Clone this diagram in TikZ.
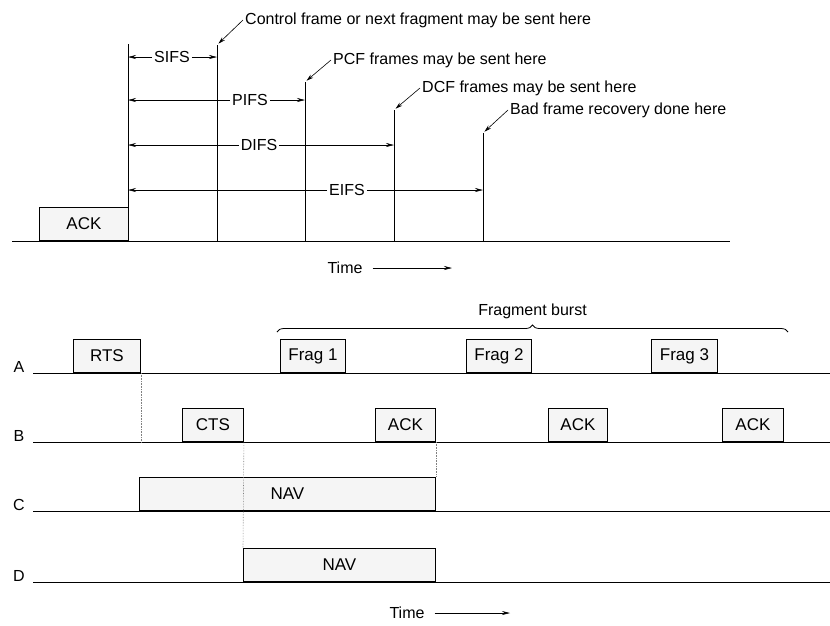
\documentclass[tikz,border=0pt]{standalone}
\usepackage{fontspec}
\setmainfont{Liberation Sans}
\usetikzlibrary{arrows.meta,decorations.pathreplacing,positioning}

\tikzset{
  frame/.style={draw, line width=0.9pt, fill=gray!8, anchor=south west, inner sep=0pt, minimum height=33pt, font=\fontsize{17}{19}\selectfont},
  lbl/.style={inner sep=2pt},
  gap/.style={-{Stealth[length=8pt,width=4pt]}, line width=0.6pt},
  note/.style={-{Stealth[length=7pt,width=4pt]}, line width=0.6pt, shorten >=2pt},
  axis/.style={line width=0.8pt},
  slot/.style={line width=0.9pt},
  guide/.style={densely dotted, gray, line width=0.6pt},
}

\begin{document}
\begin{tikzpicture}[x=1pt, y=-1pt, every node/.style={font=\fontsize{16}{18}\selectfont}]
\useasboundingbox (0,0) rectangle (830,625);

% inter frame spacing
\draw[axis] (12,241) -- (730,241);
\node[frame, minimum width=89pt] (ack0) at (39,241) {ACK};
\foreach \x/\y/\n in {128/44/v0, 217/45/v1, 305/82/v2, 394/110/v3, 483/133/v4}
  \draw[slot] (\x,241) -- (\x,\y) coordinate (\n);

\node[lbl] (sifs) at (172,57) {SIFS};
\node[lbl] (pifs) at (250,100) {PIFS};
\node[lbl] (difs) at (259,145) {DIFS};
\node[lbl] (eifs) at (347,190) {EIFS};
\draw[gap] (sifs) -- (sifs -| v0); \draw[gap] (sifs) -- (sifs -| v1);
\draw[gap] (pifs) -- (pifs -| v0); \draw[gap] (pifs) -- (pifs -| v2);
\draw[gap] (difs) -- (difs -| v0); \draw[gap] (difs) -- (difs -| v3);
\draw[gap] (eifs) -- (eifs -| v0); \draw[gap] (eifs) -- (eifs -| v4);

\node[lbl, anchor=west] (n1) at (243,20) {Control frame or next fragment may be sent here};
\node[lbl, anchor=west] (n2) at (331,60) {PCF frames may be sent here};
\node[lbl, anchor=west] (n3) at (420,88) {DCF frames may be sent here};
\node[lbl, anchor=west] (n4) at (508,110) {Bad frame recovery done here};
\draw[note] (n1.west) -- (v1);
\draw[note] (n2.west) -- (v2);
\draw[note] (n3.west) -- (v3);
\draw[note] (n4.west) -- (v4);

\node[lbl] (time0) at (345,268) {Time};
\coordinate (time0end) at (452,268);
\draw[gap, shorten <=8pt] (time0) -- (time0end);

% fragment burst
\foreach \n/\y in {A/373, B/442, C/511, D/582} {
  \node[lbl] (lab\n) at (19,\y-6) {\n};
  \draw[axis] (33,\y) coordinate (s\n) -- (830,\y) coordinate (e\n);
}
\node[frame, minimum width=67pt] (rts) at (73,373) {RTS};
\node[frame, minimum width=65pt] (frag1) at (280,373) {Frag 1};
\node[frame, minimum width=65pt] (frag2) at (466,373) {Frag 2};
\node[frame, minimum width=66pt] (frag3) at (651,373) {Frag 3};
\node[frame, minimum width=61pt] (cts) at (182,442) {CTS};
\node[frame, minimum width=60pt] (ack1) at (375,442) {ACK};
\node[frame, minimum width=59pt] (ack2) at (548,442) {ACK};
\node[frame, minimum width=61pt] (ack3) at (722,442) {ACK};
\node[frame, minimum width=296pt] (navC) at (139,511) {NAV};
\node[frame, minimum width=192pt] (navD) at (243,582) {NAV};

\draw[guide] (rts.south east) -- (rts.south east |- sB);
\draw[guide] (cts.south east) -- (navD.north west);
\draw[guide] (ack1.south east) -- (navC.north east);

\coordinate (bl) at (277,332);
\coordinate (br) at (788,332);
\draw[decorate, decoration={brace, amplitude=7pt}, line width=0.8pt] (bl) -- (br)
  node[lbl, midway, above=11pt] (burst) {Fragment burst};

\node[lbl] (time1) at (407,613) {Time};
\coordinate (time1end) at (510,613);
\draw[gap, shorten <=8pt] (time1) -- (time1end);
\end{tikzpicture}
\end{document}
